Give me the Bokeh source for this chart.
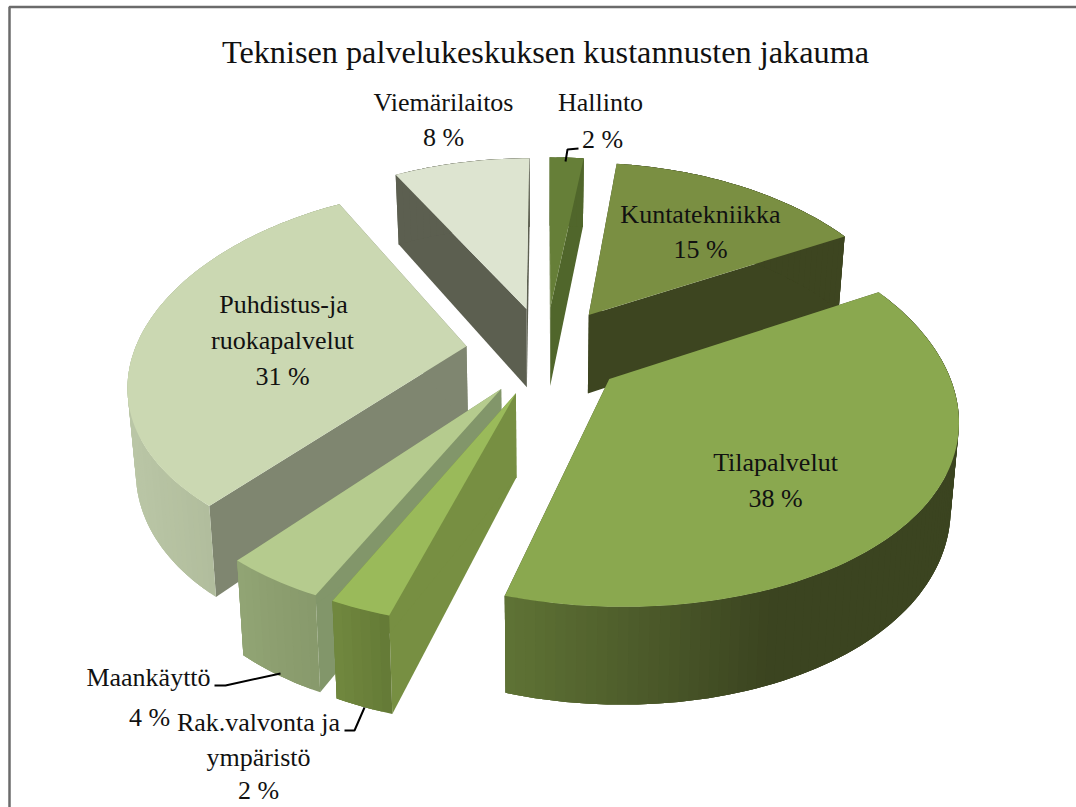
import math
from bokeh.plotting import figure
from bokeh.embed import file_html
from bokeh.resources import INLINE
from bokeh.core.properties import value

TITLE = "Teknisen palvelukeskuksen kustannusten jakauma"
names = ["Hallinto", "Kuntatekniikka", "Tilapalvelut", "Rak.valvonta ja ympäristö",
         "Maankäyttö", "Puhdistus-ja ruokapalvelut", "Viemärilaitos"]
shares = [2, 15, 37.6, 2.4, 4, 31, 8]

# styles, per slice
top_col = ["#667f38", "#7a8f42", "#8aa84f", "#9aba5a", "#b5cb8e", "#cbd8b2", "#dde4d0"]
cut_col = ["#50662b", "#3d4520", "#3d4520", "#778f42", "#82966a", "#7f8670", "#5c5f50"]
arc_l = ["#50662b", "#3d4520", "#5f7335", "#71883f", "#91a474", "#bac6a6", "#5c5f50"]
arc_r = ["#50662b", "#3d4520", "#3b4420", "#647a36", "#87996b", "#a3af8e", "#5c5f50"]
paint_order = [0, 6, 1, 5, 4, 3, 2]

# label layout: (text, x, y) in page pixels
label_lines = [
    ("Viemärilaitos", 443, 102), ("8 %", 443, 137),
    ("Hallinto", 600, 102), ("2 %", 602, 139),
    ("Kuntatekniikka", 700, 214), ("15 %", 700, 249),
    ("Tilapalvelut", 775, 462), ("38 %", 775, 498),
    ("Puhdistus-ja", 283, 304), ("ruokapalvelut", 282, 340), ("31 %", 282, 376),
    ("Maankäyttö", 148, 677), ("4 %", 149, 717),
    ("Rak.valvonta ja", 258, 722), ("ympäristö", 258, 757), ("2 %", 258, 790),
]
leaders = [
    ([565, 567, 578], [161, 149, 148]),
    ([214, 225, 280], [685, 685, 673]),
    ([344, 354, 364], [730, 730, 707]),
]

# projection of the tilted, exploded pie
CX, CY, KX, KY, PY, PX, DEPTH, TAPER, EXPLODE = 545, 350, 332, 184.6, 0.149, 0.18, 81, 0.02, 0.24


def proj(X, Y, Z=0.0):
    wy = 1 + PY * Y
    wx = 1 + PX * Y
    return CX + KX * X / wx * (1 - TAPER * Z), CY - KY * Y / wy + DEPTH * Z / wy


def mix(c1, c2, t):
    t = max(0.0, min(1.0, t))
    a = [int(c1[i:i + 2], 16) for i in (1, 3, 5)]
    b = [int(c2[i:i + 2], 16) for i in (1, 3, 5)]
    return "#%02x%02x%02x" % tuple(round(u + (v - u) * t) for u, v in zip(a, b))


p = figure(width=1076, height=807, x_range=(0, 1076), y_range=(807, 0),
           toolbar_location=None, output_backend="svg", min_border=0,
           outline_line_color=None, background_fill_color="white")
p.axis.visible = False
p.grid.visible = False

total = sum(shares)
starts = [sum(shares[:i]) / total * 2 * math.pi for i in range(len(shares))]
ends = [sum(shares[:i + 1]) / total * 2 * math.pi for i in range(len(shares))]

for i in paint_order:
    a0, a1 = starts[i], ends[i]
    mid = (a0 + a1) / 2
    ox, oy = EXPLODE * math.sin(mid), EXPLODE * math.cos(mid)
    n = max(4, int((a1 - a0) * 40))
    angs = [a0 + (a1 - a0) * j / n for j in range(n + 1)]
    rim = [(ox + math.sin(a), oy + math.cos(a)) for a in angs]
    top = [proj(x, y, 0) for x, y in rim]
    bot = [proj(x, y, 1) for x, y in rim]
    ax, ay = proj(ox, oy, 0)
    bx, by = proj(ox, oy, 1)
    # cut faces
    for k in (0, -1):
        p.patch([ax, top[k][0], bot[k][0], bx], [ay, top[k][1], bot[k][1], by],
                fill_color=cut_col[i], line_color=None)
    # outer wall, shaded in strips; each strip is overpainted by the next, so no seams
    lo = min(t[0] for t in top)
    hi = min(max(t[0] for t in top), 770 if i == 2 else 1e9)
    for j in range(n):
        j2 = min(j + 3, n)
        xm = (top[j][0] + top[j + 1][0]) / 2
        c = mix(arc_l[i], arc_r[i], (xm - lo) / max(hi - lo, 1))
        tx = [t[0] for t in top[j:j2 + 1]]
        ty = [t[1] for t in top[j:j2 + 1]]
        bxs = [t[0] for t in bot[j:j2 + 1]][::-1]
        bys = [t[1] for t in bot[j:j2 + 1]][::-1]
        p.patch(tx + bxs, ty + bys, fill_color=c, line_color=None)
    # top face
    p.patch([ax] + [t[0] for t in top], [ay] + [t[1] for t in top],
            fill_color=top_col[i], line_color=None)

# frame (left and top edges only show in the page)
p.line([9, 9, 1076], [807, 6.5, 6.5], line_color="#6b6b6b", line_width=2.5)

for xs, ys in leaders:
    p.line(xs, ys, line_color="black", line_width=2)

p.text(x=[545], y=[51], text=[TITLE], text_font=value("Liberation Serif"),
       text_font_size="32.25px", text_align="center", text_baseline="middle", text_color="#111111")
p.text(x=[l[1] for l in label_lines], y=[l[2] for l in label_lines],
       text=[l[0] for l in label_lines], text_font=value("Liberation Serif"),
       text_font_size="26px", text_align="center", text_baseline="middle", text_color="#111111")

open("out.html", "w").write(file_html(p, INLINE))
